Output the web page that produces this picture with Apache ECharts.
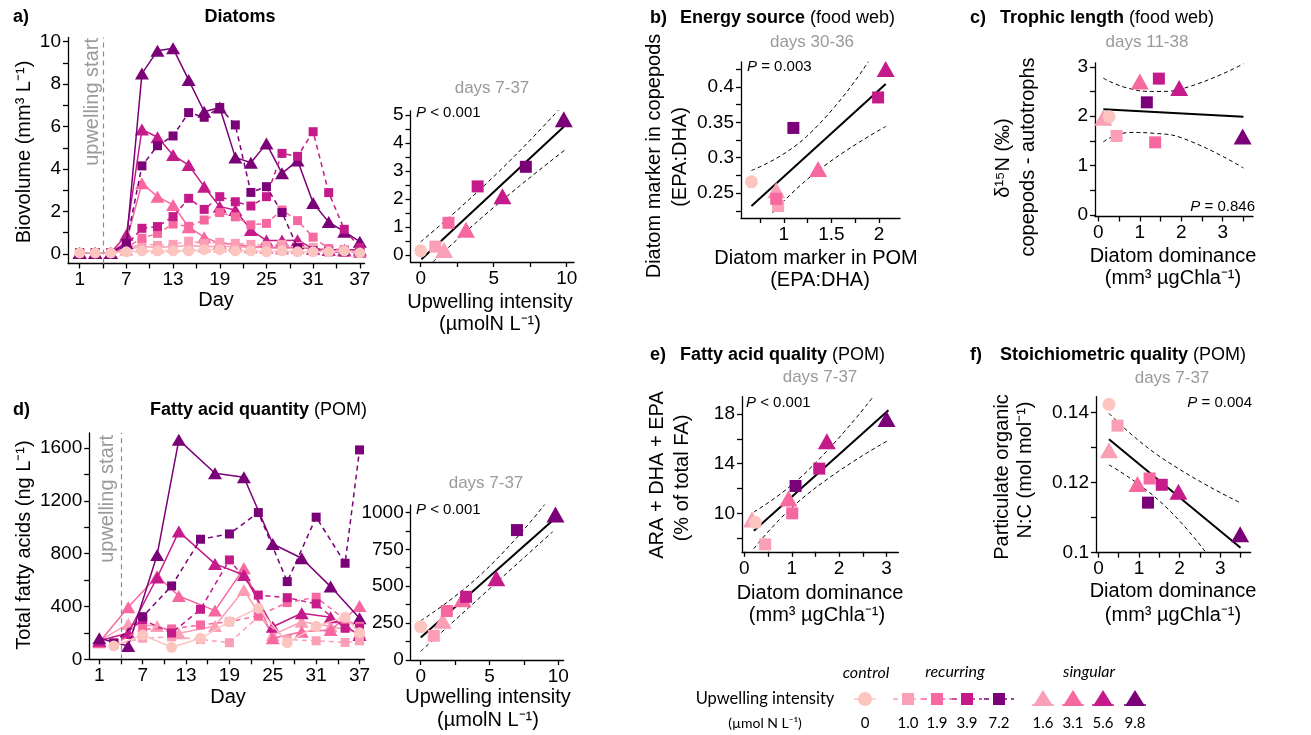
<!DOCTYPE html>
<html>
<head>
<meta charset="utf-8">
<script src="https://cdn.jsdelivr.net/npm/echarts@6.0.0/dist/echarts.min.js"></script>
<style>
  html, body { margin: 0; padding: 0; background: #fff; }
  #chart { width: 1311px; height: 735px; }
</style>
</head>
<body>
<div id="chart"></div>
<script>
// treatments in legend order: control, recurring x4, singular x4
var intensity = [0, 1.0, 1.9, 3.9, 7.2, 1.6, 3.1, 5.6, 9.8];
var intensityLabels = ['0', '1.0', '1.9', '3.9', '7.2', '1.6', '3.1', '5.6', '9.8'];
var upwellingStartDay = 4;

// a) diatom biovolume (mm3 L-1), every second day
var diatomDays = [1, 3, 5, 7, 9, 11, 13, 15, 17, 19, 21, 23, 25, 27, 29, 31, 33, 35, 37];
var diatomBiovolume = [
  [0.05, 0.05, 0.05, 0.1, 0.15, 0.15, 0.15, 0.15, 0.2, 0.2, 0.15, 0.15, 0.1, 0.15, 0.1, 0.1, 0.1, 0.15, 0.05],
  [0.05, 0.05, 0.05, 0.2, 0.5, 0.4, 0.45, 0.6, 0.5, 0.55, 0.5, 0.45, 0.4, 0.45, 0.35, 0.3, 0.2, 0.15, 0.1],
  [0.05, 0.05, 0.05, 0.3, 0.74, 0.97, 1.41, 1.3, 1.6, 1.95, 1.75, 1.37, 1.44, 2.07, 1.57, 0.79, 0.25, 0.2, 0.1],
  [0.05, 0.05, 0.05, 0.4, 1.21, 1.29, 1.76, 2.62, 2.1, 2.7, 2.46, 2.26, 2.7, 4.74, 4.6, 5.76, 2.89, 1.16, 0.3],
  [0.05, 0.05, 0.05, 0.5, 4.15, 5.1, 5.56, 6.66, 6.44, 6.9, 6.08, 2.9, 3.17, 1.95, 0.3, 0.15, 0.1, 0.1, 0.05],
  [0.05, 0.05, 0.05, 0.2, 0.35, 0.3, 0.35, 0.4, 0.35, 0.35, 0.35, 0.3, 0.3, 0.25, 0.3, 0.25, 0.2, 0.15, 0.1],
  [0.05, 0.05, 0.05, 0.6, 3.33, 2.7, 2.31, 1.26, 0.79, 0.5, 0.45, 0.35, 0.3, 0.3, 0.3, 0.25, 0.2, 0.15, 0.1],
  [0.05, 0.05, 0.05, 0.9, 5.87, 5.5, 4.66, 4.19, 3.17, 2.23, 2.07, 1.13, 0.63, 0.63, 0.65, 0.25, 0.2, 0.2, 0.2],
  [0.05, 0.05, 0.05, 0.5, 8.5, 9.58, 9.69, 8.2, 6.7, 6.9, 4.55, 4.3, 5.2, 3.8, 4.4, 2.4, 1.5, 1.05, 0.58]
];
// a) mean biovolume days 7-37 vs upwelling intensity
var diatomMean = [0.15, 0.3, 1.15, 2.45, 3.15, 0.18, 0.9, 2.1, 4.85];
var diatomFit = [[0.05, -0.15], [9.8, 4.58]];
var diatomUpper = [[0, 0.47], [5, 2.8], [9.6, 5.27]];
var diatomLower = [[0.85, -0.24], [5, 1.7], [10, 3.8]];

// b) diatom marker EPA:DHA, POM (x) vs copepods (y); no 9.8 point
var energyX = [0.66, 0.94, 0.92, 1.99, 1.10, 0.92, 1.36, 2.07, null];
var energyY = [0.266, 0.232, 0.242, 0.385, 0.342, 0.254, 0.284, 0.425, null];
var energyFit = [[0.66, 0.232], [2.07, 0.404]];
var energyUpper = [[0.66, 0.282], [1.24, 0.33], [1.89, 0.436]];
var energyLower = [[0.88, 0.222], [1.37, 0.283], [2.07, 0.344]];

// c) d15N copepods - autotrophs vs diatom dominance
var trophicX = [0.26, 0.44, 1.37, 1.46, 1.17, 0.12, 1.0, 1.95, 3.48];
var trophicY = [1.99, 1.6, 1.47, 2.76, 2.28, 1.97, 2.7, 2.57, 1.59];
var trophicFit = [[0.12, 2.14], [3.5, 1.99]];
var trophicUpper = [[0.12, 2.77], [0.7, 2.57], [1.4, 2.5], [2.2, 2.6], [3.5, 3.06]];
var trophicLower = [[0.12, 1.48], [0.76, 1.67], [1.4, 1.65], [2.2, 1.5], [3.5, 0.95]];

// d) total fatty acids (ng L-1)
var faDaysRecurring = [3, 7, 11, 15, 19, 23, 27, 31, 35, 37];
var faDaysSingular = [1, 5, 9, 12, 17, 21, 25, 29, 33, 37];
var fattyAcids = [
  [101, 184, 91, 159, 285, 387, 126, 250, 318, 202],
  [110, 160, 170, 150, 126, 323, 150, 140, 128, 140],
  [115, 230, 230, 260, 285, 330, 430, 470, 300, 250],
  [125, 300, 199, 379, 753, 487, 467, 420, 235, 235],
  [121, 323, 556, 910, 950, 1112, 589, 1077, 728, 1587],
  [140, 268, 252, 197, 252, 525, 185, 285, 250, 200],
  [130, 394, 632, 480, 369, 690, 159, 209, 222, 404],
  [140, 200, 620, 968, 723, 639, 247, 349, 318, 185],
  [159, 101, 791, 1663, 1410, 1380, 874, 766, 551, 311]
];
var faX = [0, 0.95, 1.9, 3.3, 7.0, 1.6, 3.05, 5.5, 9.8];
var faMean = [226, 164, 332, 428, 880, 266, 411, 553, 986];
var faFit = [[0, 153], [9.76, 959]];
var faUpper = [[0, 266], [4.5, 590], [9.03, 1055]];
var faLower = [[0, 59], [4.5, 440], [9.6, 869]];

// e) ARA + DHA + EPA (% of total FA) vs diatom dominance
var faQualX = [0.23, 0.44, 1.01, 1.58, 1.08, 0.16, 0.93, 1.74, 3.0];
var faQualY = [9.27, 7.5, 10.0, 13.6, 12.2, 9.5, 11.2, 15.8, 17.6];
var faQualFit = [[0.2, 8.6], [3.04, 18.3]];
var faQualUpper = [[0.2, 10.1], [1.3, 13.3], [2.72, 19.4]];
var faQualLower = [[0.2, 7.15], [1.3, 11.45], [3.05, 15.9]];

// f) particulate N:C vs diatom dominance
var ncX = [0.26, 0.47, 1.26, 1.56, 1.22, 0.26, 0.96, 1.97, 3.49];
var ncY = [0.1424, 0.1363, 0.1212, 0.1194, 0.1143, 0.1293, 0.1196, 0.1174, 0.1053];
var ncFit = [[0.26, 0.1324], [3.5, 0.1014]];
var ncUpper = [[0.26, 0.1398], [1.52, 0.1274], [3.49, 0.1143]];
var ncLower = [[0.26, 0.1251], [1.52, 0.1146], [2.65, 0.1]];

// tick and label values per panel
var dayTicks = [1, 4, 7, 10, 13, 16, 19, 22, 25, 28, 31, 34, 37];
var dayLabels = [1, 7, 13, 19, 25, 31, 37];
var bioTicks = [0, 1, 2, 3, 4, 5, 6, 7, 8, 9, 10];
var bioLabels = [0, 2, 4, 6, 8, 10];
var upTicks = [0, 2.5, 5, 7.5, 10];
var upLabels = [0, 5, 10];
var bioMeanTicks = [0, 0.5, 1, 1.5, 2, 2.5, 3, 3.5, 4, 4.5, 5];
var bioMeanLabels = [0, 1, 2, 3, 4, 5];
var pomTicks = [0.75, 1, 1.25, 1.5, 1.75, 2];
var pomLabels = [1, 1.5, 2];
var copTicks = [0.225, 0.25, 0.275, 0.3, 0.325, 0.35, 0.375, 0.4, 0.425];
var copLabels = [0.25, 0.3, 0.35, 0.4];
var domTicks = [0, 0.5, 1, 1.5, 2, 2.5, 3, 3.5];
var domLabels = [0, 1, 2, 3];
var d15Ticks = [0, 0.5, 1, 1.5, 2, 2.5, 3];
var d15Labels = [0, 1, 2, 3];
var faTicks = [0, 200, 400, 600, 800, 1000, 1200, 1400, 1600];
var faLabels = [0, 400, 800, 1200, 1600];
var faMeanTicks = [0, 125, 250, 375, 500, 625, 750, 875, 1000];
var faMeanLabels = [0, 250, 500, 750, 1000];
var qualTicks = [8, 10, 12, 14, 16, 18];
var qualLabels = [10, 14, 18];
var ncTicks = [0.1, 0.11, 0.12, 0.13, 0.14];
var ncLabels = [0.1, 0.12, 0.14];

var palette = ['#fcc5c0', '#fa9fb5', '#f768a1', '#c51b8a', '#7a0177'];
var colorIdx = [0, 1, 2, 3, 4, 1, 2, 3, 4];
var shapes = ['circle', 'rect', 'rect', 'rect', 'rect', 'triangle', 'triangle', 'triangle', 'triangle'];
var F = 'Liberation Sans, Arial, sans-serif';
var LF = 'Lato, Open Sans, sans-serif';

var grids = [
  { left: 68, top: 37.5, width: 296.5, height: 226 },
  { left: 410.5, top: 110.8, width: 163.5, height: 151.2 },
  { left: 741, top: 62, width: 159, height: 156 },
  { left: 1095, top: 62.8, width: 158, height: 153.7 },
  { left: 89.2, top: 433, width: 275.4, height: 226.3 },
  { left: 410.7, top: 505, width: 153, height: 155 },
  { left: 742, top: 396.6, width: 156.4, height: 155.2 },
  { left: 1096, top: 396.6, width: 154.7, height: 156.1 }
];

function axis(gi, min, max, ticks, labels) {
  return {
    type: 'value', gridIndex: gi, min: min, max: max,
    axisLine: { show: true, onZero: false, lineStyle: { color: '#000', width: 1.3 } },
    axisTick: { show: true, inside: false, length: 5, customValues: ticks, lineStyle: { color: '#000', width: 1.3 } },
    axisLabel: { show: true, customValues: labels, margin: 7, color: '#000', fontSize: 19, fontFamily: F,
      formatter: function (v) { return String(v); } },
    splitLine: { show: false }
  };
}

var xAxes = [
  axis(0, -0.5, 37.6, dayTicks, dayLabels),
  axis(1, -0.7, 10.5, upTicks, upLabels),
  axis(2, 0.55, 2.22, pomTicks, pomLabels),
  axis(3, -0.08, 3.73, domTicks, domLabels),
  axis(4, -0.4, 37.7, dayTicks, dayLabels),
  axis(5, -0.73, 10.4, upTicks, upLabels),
  axis(6, -0.05, 3.25, domTicks, domLabels),
  axis(7, -0.06, 3.75, domTicks, domLabels)
];
var yAxes = [
  axis(0, -0.45, 10.2, bioTicks, bioLabels),
  axis(1, -0.25, 5.15, bioMeanTicks, bioMeanLabels),
  axis(2, 0.215, 0.435, copTicks, copLabels),
  axis(3, -0.03, 3.08, d15Ticks, d15Labels),
  axis(4, 0, 1715, faTicks, faLabels),
  axis(5, 0, 1050, faMeanTicks, faMeanLabels),
  axis(6, 6.9, 19.4, qualTicks, qualLabels),
  axis(7, 0.1, 0.1446, ncTicks, ncLabels)
];

function tsSize(t) { return shapes[t] === 'triangle' ? [14, 12] : (shapes[t] === 'rect' ? 9 : 11); }
function scSize(t) { return shapes[t] === 'triangle' ? [18, 16] : (shapes[t] === 'rect' ? 12 : 13); }

var series = [];
var drawOrder = [5, 6, 7, 8, 1, 2, 3, 4, 0];

function timeSeries(gi, daysFor, values) {
  drawOrder.forEach(function (t, k) {
    var days = daysFor(t);
    var s = {
      type: 'line', xAxisIndex: gi, yAxisIndex: gi, silent: true,
      data: days.map(function (d, i) { return [d, values[t][i]]; }),
      symbol: shapes[t], symbolSize: tsSize(t), showAllSymbol: true,
      itemStyle: { color: palette[colorIdx[t]] },
      lineStyle: { color: palette[colorIdx[t]], width: 1.5, type: shapes[t] === 'rect' ? [5, 4] : 'solid' },
      z: 3 + k
    };
    if (k === 0) {
      s.markLine = {
        silent: true, symbol: 'none', label: { show: false },
        lineStyle: { color: '#8c8c8c', width: 1.2, type: [5, 4] },
        data: [{ xAxis: upwellingStartDay }]
      };
    }
    series.push(s);
  });
}

function fitLines(gi, fit, upper, lower) {
  series.push({ type: 'line', xAxisIndex: gi, yAxisIndex: gi, data: fit, symbol: 'none', silent: true,
    lineStyle: { color: '#000', width: 2 }, z: 2 });
  [upper, lower].forEach(function (b) {
    series.push({ type: 'line', xAxisIndex: gi, yAxisIndex: gi, data: b, symbol: 'none', smooth: true, silent: true,
      lineStyle: { color: '#000', width: 1, type: [4, 3] }, z: 2 });
  });
}

function scatterPanel(gi, xs, ys) {
  drawOrder.forEach(function (t, k) {
    if (xs[t] === null) return;
    series.push({
      type: 'scatter', xAxisIndex: gi, yAxisIndex: gi, silent: true,
      data: [[xs[t], ys[t]]], symbol: shapes[t], symbolSize: scSize(t),
      itemStyle: { color: palette[colorIdx[t]], opacity: 1 }, z: 5 + k
    });
  });
}

timeSeries(0, function () { return diatomDays; }, diatomBiovolume);
fitLines(1, diatomFit, diatomUpper, diatomLower);
scatterPanel(1, intensity, diatomMean);
fitLines(2, energyFit, energyUpper, energyLower);
scatterPanel(2, energyX, energyY);
fitLines(3, trophicFit, trophicUpper, trophicLower);
scatterPanel(3, trophicX, trophicY);
timeSeries(4, function (t) { return t >= 5 ? faDaysSingular : faDaysRecurring; }, fattyAcids);
fitLines(5, faFit, faUpper, faLower);
scatterPanel(5, faX, faMean);
fitLines(6, faQualFit, faQualUpper, faQualLower);
scatterPanel(6, faQualX, faQualY);
fitLines(7, ncFit, ncUpper, ncLower);
scatterPanel(7, ncX, ncY);

// text helpers
function txt(x, y, text, o) {
  o = o || {};
  return {
    type: 'text', x: x, y: y, rotation: o.rot || 0, silent: true, z: 50,
    style: {
      text: text, fill: o.color || '#000', fontSize: o.size || 20, fontFamily: o.font || F,
      fontWeight: o.weight || 'normal', fontStyle: o.style || 'normal',
      align: o.align || 'center', verticalAlign: 'middle',
      rich: o.rich
    }
  };
}
var boldRich = { b: { fontWeight: 'bold', fontSize: 18, fontFamily: F, fill: '#000' } };
var pRich = { i: { fontStyle: 'italic', fontSize: 15, fontFamily: F, fill: '#000' } };
var R = Math.PI / 2;

var g = [
  txt(13, 17, 'a)', { size: 18, weight: 'bold', align: 'left' }),
  txt(240, 17, 'Diatoms', { size: 18, weight: 'bold' }),
  txt(650, 18, 'b)', { size: 18, weight: 'bold', align: 'left' }),
  txt(680, 18, '{b|Energy source} (food web)', { size: 18, align: 'left', rich: boldRich }),
  txt(970, 18, 'c)', { size: 18, weight: 'bold', align: 'left' }),
  txt(1000, 18, '{b|Trophic length} (food web)', { size: 18, align: 'left', rich: boldRich }),
  txt(13, 410, 'd)', { size: 18, weight: 'bold', align: 'left' }),
  txt(150, 410, '{b|Fatty acid quantity} (POM)', { size: 18, align: 'left', rich: boldRich }),
  txt(650, 355, 'e)', { size: 18, weight: 'bold', align: 'left' }),
  txt(680, 355, '{b|Fatty acid quality} (POM)', { size: 18, align: 'left', rich: boldRich }),
  txt(970, 355, 'f)', { size: 18, weight: 'bold', align: 'left' }),
  txt(1000, 355, '{b|Stoichiometric quality} (POM)', { size: 18, align: 'left', rich: boldRich }),

  txt(492, 88, 'days 7-37', { size: 17, color: '#9a9a9a' }),
  txt(812, 42, 'days 30-36', { size: 17, color: '#9a9a9a' }),
  txt(1147, 42, 'days 11-38', { size: 17, color: '#9a9a9a' }),
  txt(486, 483, 'days 7-37', { size: 17, color: '#9a9a9a' }),
  txt(820, 377, 'days 7-37', { size: 17, color: '#9a9a9a' }),
  txt(1172, 378, 'days 7-37', { size: 17, color: '#9a9a9a' }),

  txt(416, 113, '{i|P} < 0.001', { size: 15, align: 'left', rich: pRich }),
  txt(747, 67, '{i|P} = 0.003', { size: 15, align: 'left', rich: pRich }),
  txt(1255, 207, '{i|P} = 0.846', { size: 15, align: 'right', rich: pRich }),
  txt(416, 510, '{i|P} < 0.001', { size: 15, align: 'left', rich: pRich }),
  txt(746, 403, '{i|P} < 0.001', { size: 15, align: 'left', rich: pRich }),
  txt(1252, 403, '{i|P} = 0.004', { size: 15, align: 'right', rich: pRich }),

  txt(92, 38, 'upwelling start', { size: 20, color: '#9a9a9a', rot: R, align: 'right' }),
  txt(107, 435, 'upwelling start', { size: 20, color: '#9a9a9a', rot: R, align: 'right' }),

  txt(24, 152, 'Biovolume (mm³ L⁻¹)', { rot: R }),
  txt(216, 300, 'Day'),
  txt(490, 302, 'Upwelling intensity'),
  txt(490, 324, '(µmolN L⁻¹)'),
  txt(654, 156, 'Diatom marker in copepods', { rot: R }),
  txt(680, 157, '(EPA:DHA)', { rot: R }),
  txt(816, 258, 'Diatom marker in POM'),
  txt(820, 280, '(EPA:DHA)'),
  txt(1003, 158, 'δ¹⁵N (‰)', { rot: R }),
  txt(1028, 157, 'copepods - autotrophs', { rot: R }),
  txt(1173, 256, 'Diatom dominance'),
  txt(1173, 278, '(mm³ µgChla⁻¹)'),
  txt(24, 545, 'Total fatty acids (ng L⁻¹)', { rot: R }),
  txt(228, 697, 'Day'),
  txt(488, 697, 'Upwelling intensity'),
  txt(488, 720, '(µmolN L⁻¹)'),
  txt(657, 475, 'ARA + DHA + EPA', { rot: R }),
  txt(682, 478, '(% of total FA)', { rot: R }),
  txt(820, 593, 'Diatom dominance'),
  txt(817, 615, '(mm³ µgChla⁻¹)'),
  txt(1002, 477, 'Particulate organic', { rot: R }),
  txt(1025, 470, 'N:C (mol mol⁻¹)', { rot: R }),
  txt(1173, 591, 'Diatom dominance'),
  txt(1173, 615, '(mm³ µgChla⁻¹)'),

  // legend
  txt(765, 699, 'Upwelling intensity', { size: 16.5, font: LF }),
  txt(765, 723, '(µmol N L⁻¹)', { size: 14, font: LF }),
  txt(866, 673, 'control', { size: 16, font: LF, style: 'italic' }),
  txt(955, 672, 'recurring', { size: 16, font: LF, style: 'italic' }),
  txt(1089, 672, 'singular', { size: 16, font: LF, style: 'italic' })
];

var legendX = [865, 908, 937, 967, 999, 1043, 1073, 1103, 1135];
var legendY = 699;
legendX.forEach(function (x, t) {
  var c = palette[colorIdx[t]];
  if (shapes[t] === 'rect') {
    g.push({ type: 'line', shape: { x1: x - 15, y1: legendY, x2: x + 15, y2: legendY }, silent: true,
      style: { stroke: c, lineWidth: 1.5, lineDash: [5, 4] } });
    g.push({ type: 'rect', shape: { x: x - 6, y: legendY - 6, width: 12, height: 12 }, silent: true, style: { fill: c } });
  } else if (shapes[t] === 'triangle') {
    g.push({ type: 'line', shape: { x1: x - 11, y1: legendY + 6, x2: x + 11, y2: legendY + 6 }, silent: true,
      style: { stroke: c, lineWidth: 1.5 } });
    g.push({ type: 'polygon', shape: { points: [[x, legendY - 9], [x - 10, legendY + 7], [x + 10, legendY + 7]] }, silent: true, style: { fill: c } });
  } else {
    g.push({ type: 'line', shape: { x1: x - 11, y1: legendY, x2: x + 11, y2: legendY }, silent: true,
      style: { stroke: c, lineWidth: 1.5 } });
    g.push({ type: 'circle', shape: { cx: x, cy: legendY, r: 7 }, silent: true, style: { fill: c } });
  }
  g.push(txt(x, 723, intensityLabels[t], { size: 15, font: LF }));
});

var chart = echarts.init(document.getElementById('chart'));
chart.setOption({
  animation: false,
  backgroundColor: '#fff',
  grid: grids,
  xAxis: xAxes,
  yAxis: yAxes,
  series: series,
  graphic: g
});
</script>
</body>
</html>
